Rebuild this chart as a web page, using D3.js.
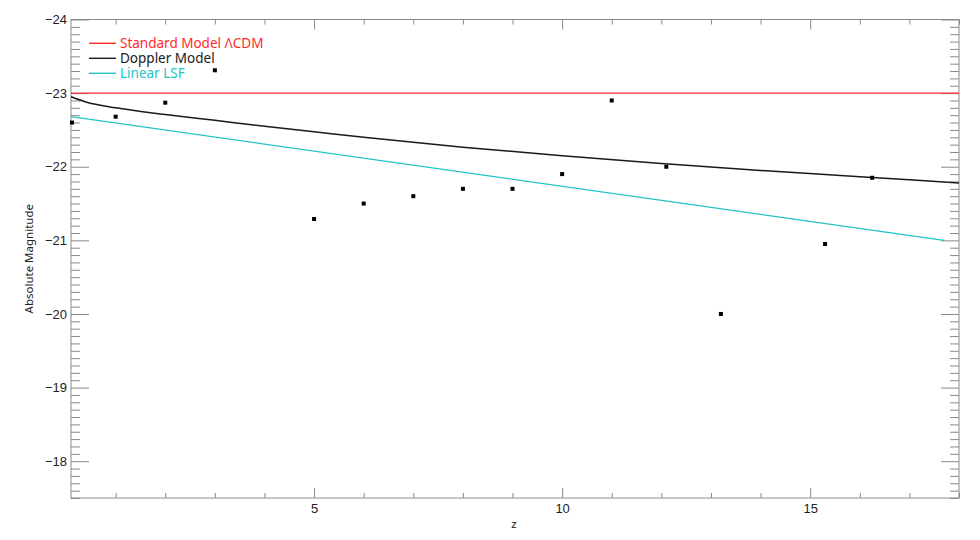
<!DOCTYPE html>
<html>
<head>
<meta charset="utf-8">
<script src="https://cdn.jsdelivr.net/npm/d3@7"></script>
<style>
  body { margin: 0; background: #fff; }
  svg { display: block; font-family: "Noto Sans", sans-serif; }
</style>
</head>
<body>
<div id="chart"></div>
<script>
// observed points
const obsZ = [0.12, 1.0, 2.0, 3.0, 5.0, 6.0, 7.0, 8.0, 9.0, 10.0, 11.0, 12.1, 13.2, 15.3, 16.25];
const obsM = [-22.6, -22.68, -22.87, -23.31, -21.29, -21.5, -21.6, -21.7, -21.7, -21.9, -22.9, -22.0, -20.0, -20.95, -21.85];

// Doppler model curve
const dopZ = [0.1, 0.4, 1, 2, 3, 4, 5, 6, 8, 10, 12, 14, 16, 18];
const dopM = [-22.95, -22.88, -22.80, -22.71, -22.63, -22.55, -22.475, -22.40, -22.265, -22.15, -22.045, -21.95, -21.865, -21.78];

// Linear least squares fit
const lsfZ = [0.1, 17.7];
const lsfM = [-22.68, -21.0];

// Standard model
const stdM = -23;

const legendLabels = ["Standard Model ΛCDM", "Doppler Model", "Linear LSF"];
const legendColors = ["#ff2a2a", "#1a1a1a", "#22c4c4"];

const yMajor = [-24, -23, -22, -21, -20, -19, -18];
const xMajor = [5, 10, 15];

const width = 980, height = 540;
const m = { left: 71, right: 959, top: 19.5, bottom: 498 };

const svg = d3.select("#chart").append("svg")
    .attr("width", width)
    .attr("height", height);

const x = d3.scaleLinear().domain([0.1, 18]).range([m.left, m.right]);
const y = d3.scaleLinear().domain([-24, -17.5]).range([m.top, m.bottom]);

const axisColor = "#8a8a8a";
const fmt = d3.format("d");

const yMinor = d3.range(-240, -174).map(d => d / 10).filter(d => !yMajor.includes(d));
const xMinor = d3.range(1, 19).filter(d => !xMajor.includes(d));

function styleAxis(g) {
    g.select(".domain").remove();
    g.selectAll("line").attr("stroke", axisColor);
    g.selectAll("text").attr("fill", "#222").attr("font-size", "13px");
}

// minor ticks
svg.append("g").attr("transform", `translate(${m.left},0)`)
    .call(d3.axisLeft(y).tickValues(yMinor).tickSize(-9).tickFormat(""))
    .call(styleAxis);
svg.append("g").attr("transform", `translate(${m.right},0)`)
    .call(d3.axisRight(y).tickValues(yMinor).tickSize(-9).tickFormat(""))
    .call(styleAxis);
svg.append("g").attr("transform", `translate(0,${m.bottom})`)
    .call(d3.axisBottom(x).tickValues(xMinor).tickSize(-5).tickFormat(""))
    .call(styleAxis);
svg.append("g").attr("transform", `translate(0,${m.top})`)
    .call(d3.axisTop(x).tickValues(xMinor).tickSize(-5).tickFormat(""))
    .call(styleAxis);

// major ticks
svg.append("g").attr("transform", `translate(${m.left},0)`)
    .call(d3.axisLeft(y).tickValues(yMajor).tickSize(-18).tickPadding(4).tickFormat(fmt))
    .call(styleAxis);
svg.append("g").attr("transform", `translate(${m.right},0)`)
    .call(d3.axisRight(y).tickValues(yMajor).tickSize(-18).tickFormat(""))
    .call(styleAxis);
svg.append("g").attr("transform", `translate(0,${m.bottom})`)
    .call(d3.axisBottom(x).tickValues(xMajor).tickSize(-10).tickPadding(6).tickFormat(fmt))
    .call(styleAxis);
svg.append("g").attr("transform", `translate(0,${m.top})`)
    .call(d3.axisTop(x).tickValues(xMajor).tickSize(-10).tickFormat(""))
    .call(styleAxis);

// frame
svg.append("rect")
    .attr("x", m.left).attr("y", m.top)
    .attr("width", m.right - m.left).attr("height", m.bottom - m.top)
    .attr("fill", "none")
    .attr("stroke", axisColor)
    .attr("stroke-width", 1);

// axis titles
svg.append("text")
    .attr("x", 514).attr("y", 528)
    .attr("text-anchor", "middle")
    .attr("font-size", "11.5px")
    .attr("fill", "#222")
    .text("z");

svg.append("text")
    .attr("transform", `translate(33,${(m.top + m.bottom) / 2}) rotate(-90)`)
    .attr("text-anchor", "middle")
    .attr("font-size", "11.5px")
    .attr("fill", "#222")
    .text("Absolute Magnitude");

// standard model line
svg.append("line")
    .attr("x1", x(0.1)).attr("x2", x(18))
    .attr("y1", y(stdM)).attr("y2", y(stdM))
    .attr("stroke", legendColors[0])
    .attr("stroke-width", 1.3);

// Doppler model
const dopLine = d3.line()
    .x(d => x(d[0]))
    .y(d => y(d[1]))
    .curve(d3.curveMonotoneX);

svg.append("path")
    .datum(dopZ.map((z, i) => [z, dopM[i]]))
    .attr("d", dopLine)
    .attr("fill", "none")
    .attr("stroke", legendColors[1])
    .attr("stroke-width", 1.5);

// linear LSF
svg.append("path")
    .datum(lsfZ.map((z, i) => [z, lsfM[i]]))
    .attr("d", d3.line().x(d => x(d[0])).y(d => y(d[1])))
    .attr("fill", "none")
    .attr("stroke", legendColors[2])
    .attr("stroke-width", 1.3);

// points
svg.selectAll(".pt")
    .data(obsZ.map((z, i) => [z, obsM[i]]))
    .join("rect")
    .attr("class", "pt")
    .attr("x", d => x(d[0]) - 2)
    .attr("y", d => y(d[1]) - 2)
    .attr("width", 4)
    .attr("height", 4)
    .attr("fill", "#000");

// legend
const legend = svg.selectAll(".legend")
    .data(legendLabels)
    .join("g")
    .attr("class", "legend")
    .attr("transform", (d, i) => `translate(89,${43.3 + i * 15})`);

legend.append("line")
    .attr("x1", 0).attr("x2", 27)
    .attr("stroke", (d, i) => legendColors[i])
    .attr("stroke-width", 1.4);

legend.append("text")
    .attr("x", 31)
    .attr("dy", "0.35em")
    .attr("font-size", "13.5px")
    .attr("fill", (d, i) => legendColors[i])
    .text(d => d);
</script>
</body>
</html>
